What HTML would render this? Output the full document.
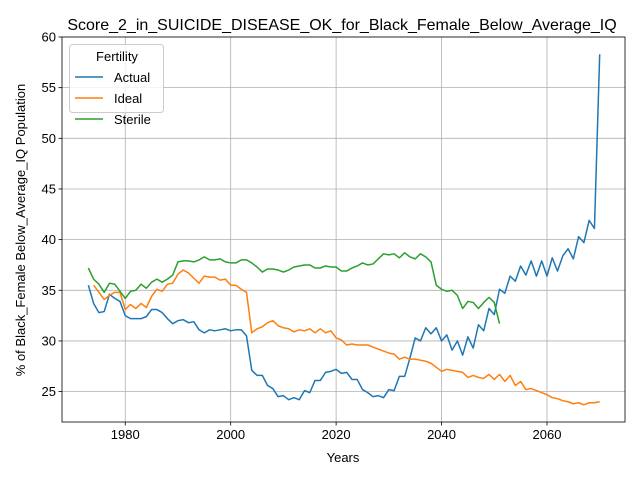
<!DOCTYPE html>
<html><head><meta charset="utf-8"><style>body{margin:0;background:#fff}svg{display:block;font-family:"Liberation Sans","DejaVu Sans",sans-serif}</style></head>
<body>
<svg id="c" width="640" height="480" viewBox="0 0 640 480"></svg>
<script>
const startActual = 1973, startIdeal = 1974, startSterile = 1973;
const actual = [35.5,33.7,32.8,32.9,34.6,34.2,33.9,32.5,32.2,32.2,32.2,32.4,33.1,33.1,32.8,32.2,31.7,32.0,32.1,31.8,31.9,31.1,30.8,31.1,31.0,31.1,31.2,31.0,31.1,31.1,30.5,27.1,26.6,26.6,25.6,25.3,24.5,24.6,24.2,24.4,24.2,25.1,24.9,26.1,26.1,26.9,27.0,27.2,26.8,26.9,26.2,26.2,25.2,24.9,24.5,24.6,24.4,25.2,25.1,26.5,26.5,28.3,30.3,30.0,31.3,30.7,31.3,30.0,30.6,29.1,30.0,28.6,30.4,29.3,31.6,31.0,33.2,32.6,35.1,34.7,36.4,35.9,37.4,36.5,37.9,36.4,37.9,36.4,38.2,36.9,38.4,39.1,38.1,40.3,39.7,41.9,41.1,58.3];
const ideal = [35.5,34.8,34.1,34.5,34.8,34.8,33.1,33.6,33.2,33.7,33.3,34.4,35.1,34.9,35.6,35.7,36.6,37.0,36.7,36.2,35.7,36.4,36.3,36.3,36.0,36.1,35.5,35.5,35.1,34.8,30.8,31.2,31.4,31.8,32.0,31.5,31.3,31.2,30.9,31.1,31.0,31.2,30.8,31.2,30.8,31.0,30.3,30.1,29.6,29.7,29.6,29.6,29.6,29.4,29.2,29.0,28.8,28.7,28.2,28.4,28.2,28.2,28.1,28.0,27.8,27.4,27.0,27.2,27.1,27.0,26.9,26.4,26.6,26.4,26.3,26.7,26.2,26.7,26.0,26.6,25.6,26.0,25.2,25.3,25.1,24.9,24.7,24.4,24.3,24.1,24.0,23.8,23.9,23.7,23.9,23.9,24.0];
const sterile = [37.2,36.1,35.6,34.8,35.7,35.6,34.9,34.2,34.9,35.0,35.6,35.2,35.8,36.1,35.8,36.1,36.5,37.8,37.9,37.9,37.8,38.0,38.3,38.0,38.0,38.1,37.8,37.7,37.7,38.0,38.0,37.7,37.3,36.8,37.1,37.1,37.0,36.8,37.0,37.3,37.4,37.5,37.5,37.2,37.2,37.4,37.3,37.3,36.9,36.9,37.2,37.4,37.7,37.5,37.6,38.1,38.6,38.5,38.6,38.2,38.7,38.3,38.1,38.6,38.3,37.8,35.5,35.1,34.9,35.0,34.5,33.2,33.9,33.8,33.2,33.8,34.3,33.8,31.7];
const xTicks = [1980,2000,2020,2040,2060];
const yTicks = [25,30,35,40,45,50,55,60];

const L=62,R=625,T=37,B=422, X0=1968.0,X1=2074.8,Y0=22.0,Y1=60.0;
const xs=v=>L+(v-X0)/(X1-X0)*(R-L), ys=v=>B-(v-Y0)/(Y1-Y0)*(B-T);
const svg=document.getElementById('c'), NS='http://www.w3.org/2000/svg';
function mk(tag,a,txt){const e=document.createElementNS(NS,tag);for(const k in a)e.setAttribute(k,a[k]);if(txt!=null)e.textContent=txt;svg.appendChild(e);return e;}
xTicks.forEach(t=>{const x=xs(t);
 const g=mk('line',{x1:x,x2:x,y1:T,y2:B,stroke:'#b0b0b0','stroke-width':0.8});
 
 
 mk('line',{x1:x,x2:x,y1:B,y2:B+3.5,stroke:'#000','stroke-width':0.8});
 const l=mk('text',{x:x,y:B+17,'text-anchor':'middle','font-size':13},t);
 
 
});
yTicks.forEach(t=>{const y=ys(t);
 const g=mk('line',{x1:L,x2:R,y1:y,y2:y,stroke:'#b0b0b0','stroke-width':0.8});
 
 
 mk('line',{x1:L-3.5,x2:L,y1:y,y2:y,stroke:'#000','stroke-width':0.8});
 const l=mk('text',{x:L-6,y:y+4.5,'text-anchor':'end','font-size':13},t);
 
 
});
function series(arr,start,color,name){
 const d=arr.map((v,i)=>(i?'L':'M')+xs(start+i).toFixed(2)+','+ys(v).toFixed(2)).join('');
 const p=mk('path',{d:d,fill:'none',stroke:color,'stroke-width':1.5,'stroke-linejoin':'round'});
 
 
}
series(actual,startActual,'#1f77b4','actual-line');
series(ideal,startIdeal,'#ff7f0e','ideal-line');
series(sterile,startSterile,'#2ca02c','sterile-line');
const fr=mk('rect',{x:L,y:T,width:R-L,height:B-T,fill:'none',stroke:'#000','stroke-width':0.8});


</script>
<svg style="position:absolute;left:0;top:0" width="640" height="480">
<text x="342" y="30" text-anchor="middle" font-size="16">Score_2_in_SUICIDE_DISEASE_OK_for_Black_Female_Below_Average_IQ</text>
<text x="343" y="462" text-anchor="middle" font-size="13">Years</text>
<text transform="translate(25,230) rotate(-90)" text-anchor="middle" font-size="13">% of Black_Female Below_Average_IQ Population</text>
<g>
<rect x="69.5" y="44.5" width="94" height="68" rx="3" fill="#fff" fill-opacity="0.8" stroke="#ccc"/>
<text x="117" y="61" text-anchor="middle" font-size="13">Fertility</text>
<line x1="75" x2="103" y1="77" y2="77" stroke="#1f77b4" stroke-width="1.5"/>
<text x="114" y="82" font-size="13">Actual</text>
<line x1="75" x2="103" y1="98" y2="98" stroke="#ff7f0e" stroke-width="1.5"/>
<text x="114" y="103" font-size="13">Ideal</text>
<line x1="75" x2="103" y1="119" y2="119" stroke="#2ca02c" stroke-width="1.5"/>
<text x="114" y="124" font-size="13">Sterile</text>
</g>
</svg>
</body></html>
